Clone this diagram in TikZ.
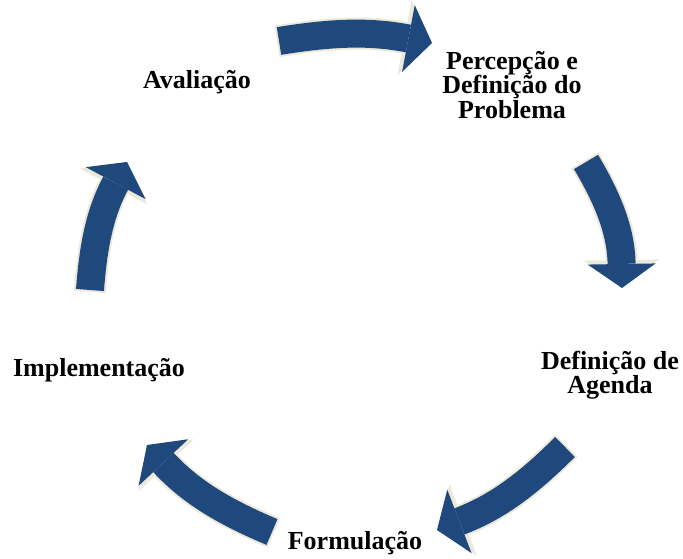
\documentclass[tikz,border=0pt]{standalone}
\usepackage{fontspec}
\setmainfont{Liberation Serif}
\usetikzlibrary{arrows.meta}
\definecolor{cyc}{RGB}{31,73,125}
\definecolor{halo}{RGB}{236,233,218}
\tikzset{stage/.style={font=\fontsize{26}{24.5}\selectfont\bfseries,align=center,inner sep=0pt},
 cycline/.style={draw=cyc,line width=28pt,-{Triangle[length=24pt,width=68pt,line width=0pt]}},
 haloline/.style={draw=halo,line width=32pt,shorten <=-2pt,-{Triangle[length=28pt,width=76pt,line width=0pt]}}}
\begin{document}
\begin{tikzpicture}[x=1pt,y=1pt]
\useasboundingbox (0,0) rectangle (683,559);
\clip (0,0) rectangle (683,559);
\node[stage] (aval) at (197,477) {Avaliação};
\node[stage] (perc) at (512,474) {Percepção e\\Definição do\\Problema};
\node[stage] (agen) at (610,184) {Definição de\\Agenda};
\node[stage] (impl) at (99,189) {Implementação};
\node[stage,anchor=base] (form) at (355,9) {Formulação};
% arrow ends
\coordinate (t1) at (279,518); \coordinate (h1) at (432,516);
\coordinate (t2) at (586,397); \coordinate (h2) at (622,271);
\coordinate (t3) at (565,112); \coordinate (h3) at (437,29);
\coordinate (t4) at (272,27); \coordinate (h4) at (147,114);
\coordinate (t5) at (90,269); \coordinate (h5) at (127,397);
\foreach \a/\b/\k in {t1/h1/10,t2/h2/15,t3/h3/12,t4/h4/12,t5/h5/12}{
 \draw[haloline] (\a) to[bend left=\k] (\b);
 \draw[cycline] (\a) to[bend left=\k] (\b);}
\end{tikzpicture}
\end{document}
